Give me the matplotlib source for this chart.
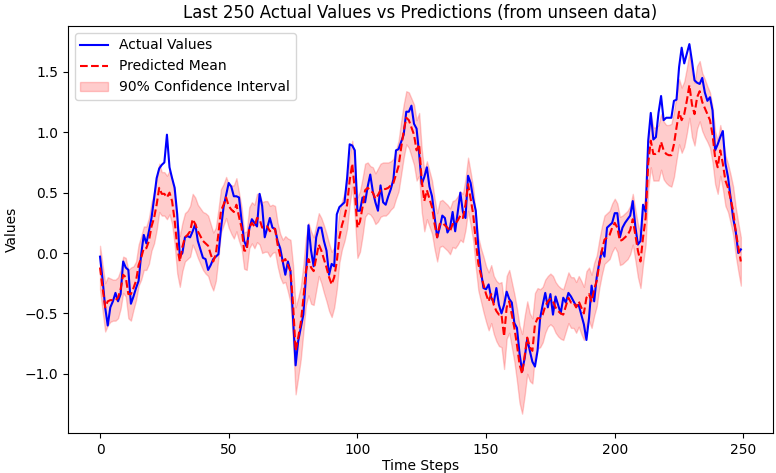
import matplotlib
matplotlib.use("Agg")
import matplotlib.pyplot as plt
import numpy as np

# Actual values (last 250 steps)
actual = [
    -0.03, -0.22, -0.45, -0.60, -0.45, -0.40, -0.33, -0.40, -0.34, -0.07,
    -0.12, -0.14, -0.42, -0.36, -0.29, -0.23, -0.01, 0.15, 0.08, 0.18,
    0.29, 0.45, 0.62, 0.70, 0.73, 0.75, 0.98, 0.71, 0.62, 0.54,
    0.32, -0.03, 0.00, 0.13, 0.14, 0.13, 0.18, 0.24, 0.10, 0.03,
    -0.04, -0.05, -0.14, -0.10, -0.05, -0.03, -0.01, 0.20, 0.38, 0.48,
    0.58, 0.55, 0.47, 0.47, 0.46, 0.27, 0.10, 0.05, 0.20, 0.28,
    0.25, 0.22, 0.49, 0.39, 0.13, 0.21, 0.29, 0.21, 0.20, 0.10,
    0.04, -0.07, -0.18, -0.07, -0.15, -0.54, -0.93, -0.73, -0.62, -0.51,
    -0.20, 0.23, 0.02, -0.11, 0.13, 0.21, 0.21, 0.10, 0.02, -0.18,
    -0.09, -0.11, 0.32, 0.38, 0.40, 0.42, 0.62, 0.90, 0.89, 0.85,
    0.35, 0.35, 0.46, 0.42, 0.55, 0.65, 0.51, 0.42, 0.35, 0.56,
    0.42, 0.40, 0.47, 0.53, 0.61, 0.85, 0.86, 0.92, 0.98, 1.17,
    1.17, 1.22, 1.07, 1.03, 0.82, 0.57, 0.63, 0.71, 0.55, 0.47,
    0.30, 0.13, 0.21, 0.31, 0.29, 0.17, 0.21, 0.34, 0.18, 0.34,
    0.50, 0.34, 0.29, 0.64, 0.58, 0.45, 0.35, 0.05, -0.15, -0.29,
    -0.30, -0.26, -0.37, -0.41, -0.29, -0.43, -0.50, -0.43, -0.32, -0.38,
    -0.41, -0.58, -0.62, -0.83, -0.98, -0.87, -0.71, -0.81, -0.90, -0.94,
    -0.81, -0.54, -0.43, -0.33, -0.45, -0.34, -0.51, -0.36, -0.43, -0.50,
    -0.37, -0.41, -0.33, -0.36, -0.40, -0.44, -0.43, -0.51, -0.59, -0.72,
    -0.54, -0.27, -0.40, -0.20, -0.08, 0.02, -0.03, 0.21, 0.23, 0.25,
    0.33, 0.33, 0.13, 0.21, 0.25, 0.28, 0.31, 0.43, 0.22, 0.07,
    0.10, 0.40, 0.34, 0.93, 1.16, 0.94, 0.96, 1.16, 1.30, 1.10,
    1.12, 1.12, 1.12, 1.26, 1.27, 1.54, 1.70, 1.57, 1.65, 1.73,
    1.59, 1.43, 1.41, 1.40, 1.45, 1.33, 1.26, 1.29, 1.18, 0.85,
    0.90, 0.96, 1.01, 0.74, 0.63, 0.46, 0.29, 0.18, 0.00, 0.03,
]

# Predicted mean
predicted = [
    -0.12, -0.29, -0.45, -0.40, -0.39, -0.39, -0.39, -0.37, -0.30, -0.18,
    -0.20, -0.34, -0.34, -0.29, -0.23, -0.10, -0.04, 0.04, 0.04, 0.10,
    0.22, 0.29, 0.40, 0.54, 0.49, 0.49, 0.46, 0.50, 0.43, 0.27,
    0.05, -0.07, 0.05, 0.13, 0.15, 0.18, 0.28, 0.24, 0.18, 0.14,
    0.10, 0.08, 0.06, -0.01, -0.07, -0.01, 0.16, 0.35, 0.40, 0.46,
    0.39, 0.36, 0.34, 0.40, 0.30, 0.21, 0.02, 0.02, 0.21, 0.25,
    0.22, 0.29, 0.28, 0.21, 0.22, 0.22, 0.18, 0.20, 0.20, 0.07,
    -0.02, -0.07, -0.05, -0.10, -0.15, -0.42, -0.81, -0.70, -0.58, -0.38,
    -0.15, -0.05, -0.12, -0.15, -0.04, 0.07, 0.02, -0.05, -0.12, -0.20,
    -0.26, -0.20, -0.07, 0.13, 0.23, 0.30, 0.40, 0.60, 0.74, 0.52,
    0.21, 0.26, 0.38, 0.52, 0.54, 0.52, 0.50, 0.45, 0.48, 0.52,
    0.53, 0.53, 0.54, 0.56, 0.58, 0.65, 0.72, 0.87, 1.01, 1.12,
    1.10, 1.04, 0.98, 0.85, 0.90, 0.60, 0.43, 0.52, 0.45, 0.38,
    0.24, 0.13, 0.24, 0.25, 0.23, 0.21, 0.18, 0.24, 0.24, 0.27,
    0.31, 0.29, 0.40, 0.57, 0.45, 0.32, 0.10, -0.09, -0.18, -0.26,
    -0.34, -0.40, -0.34, -0.43, -0.48, -0.51, -0.51, -0.69, -0.45, -0.40,
    -0.51, -0.62, -0.76, -0.92, -1.00, -0.85, -0.70, -0.78, -0.81, -0.59,
    -0.54, -0.54, -0.51, -0.44, -0.40, -0.38, -0.40, -0.45, -0.48, -0.50,
    -0.51, -0.44, -0.37, -0.41, -0.41, -0.45, -0.40, -0.45, -0.50, -0.37,
    -0.34, -0.40, -0.30, -0.23, -0.09, 0.02, 0.11, 0.13, 0.15, 0.21,
    0.25, 0.21, 0.10, 0.11, 0.13, 0.15, 0.19, 0.28, 0.15, 0.02,
    -0.07, 0.13, 0.29, 0.74, 0.93, 0.82, 0.82, 0.83, 0.92, 0.85,
    0.82, 0.81, 0.81, 0.90, 1.04, 1.17, 1.10, 1.15, 1.26, 1.39,
    1.23, 1.15, 1.29, 1.34, 1.25, 1.20, 1.15, 1.10, 0.98, 0.79,
    0.71, 0.85, 0.74, 0.60, 0.54, 0.45, 0.35, 0.18, 0.05, -0.07,
]

# Half width of the 90% confidence interval
ci_half = [
    0.18, 0.19, 0.20, 0.20, 0.18, 0.17, 0.17, 0.17, 0.16, 0.15,
    0.16, 0.20, 0.22, 0.18, 0.16, 0.17, 0.18, 0.18, 0.18, 0.19,
    0.20, 0.21, 0.21, 0.20, 0.18, 0.18, 0.18, 0.18, 0.19, 0.20,
    0.22, 0.21, 0.20, 0.20, 0.20, 0.21, 0.21, 0.22, 0.22, 0.23,
    0.24, 0.25, 0.25, 0.25, 0.24, 0.22, 0.20, 0.18, 0.17, 0.17,
    0.18, 0.20, 0.22, 0.22, 0.20, 0.17, 0.15, 0.16, 0.17, 0.17,
    0.18, 0.20, 0.21, 0.21, 0.21, 0.21, 0.21, 0.20, 0.19, 0.18,
    0.18, 0.18, 0.19, 0.22, 0.26, 0.32, 0.36, 0.33, 0.30, 0.28,
    0.28, 0.30, 0.30, 0.28, 0.27, 0.26, 0.27, 0.28, 0.28, 0.28,
    0.27, 0.25, 0.23, 0.21, 0.20, 0.20, 0.20, 0.20, 0.19, 0.22,
    0.25, 0.25, 0.24, 0.22, 0.21, 0.20, 0.21, 0.21, 0.22, 0.22,
    0.22, 0.22, 0.21, 0.20, 0.20, 0.20, 0.21, 0.22, 0.22, 0.22,
    0.23, 0.24, 0.25, 0.25, 0.26, 0.26, 0.25, 0.24, 0.23, 0.22,
    0.21, 0.20, 0.19, 0.19, 0.19, 0.19, 0.19, 0.19, 0.20, 0.20,
    0.20, 0.20, 0.21, 0.22, 0.22, 0.22, 0.22, 0.22, 0.22, 0.23,
    0.23, 0.24, 0.24, 0.24, 0.25, 0.26, 0.27, 0.27, 0.26, 0.26,
    0.27, 0.28, 0.30, 0.32, 0.33, 0.33, 0.30, 0.28, 0.27, 0.26,
    0.25, 0.24, 0.23, 0.22, 0.21, 0.21, 0.21, 0.21, 0.21, 0.21,
    0.21, 0.21, 0.21, 0.21, 0.21, 0.21, 0.21, 0.22, 0.22, 0.22,
    0.22, 0.22, 0.22, 0.21, 0.20, 0.20, 0.20, 0.20, 0.20, 0.20,
    0.20, 0.20, 0.20, 0.20, 0.20, 0.20, 0.20, 0.21, 0.21, 0.22,
    0.22, 0.22, 0.22, 0.22, 0.22, 0.22, 0.22, 0.23, 0.23, 0.24,
    0.24, 0.25, 0.26, 0.27, 0.27, 0.27, 0.27, 0.27, 0.27, 0.27,
    0.27, 0.26, 0.26, 0.25, 0.24, 0.24, 0.23, 0.23, 0.23, 0.22,
    0.22, 0.21, 0.21, 0.21, 0.20, 0.20, 0.20, 0.20, 0.20, 0.20,
]

steps = np.arange(len(actual))
pred = np.array(predicted)
half = np.array(ci_half)
lower = pred - half
upper = pred + half

fig = plt.figure(figsize=(7.76, 4.73), dpi=100)
ax = fig.add_axes([0.0876, 0.0846, 0.9084, 0.8605])

ax.plot(steps, actual, color='blue', linewidth=1.5, label='Actual Values')
ax.plot(steps, pred, color='red', linestyle='--', linewidth=1.5, label='Predicted Mean')
ax.fill_between(steps, lower, upper, color='red', alpha=0.2, label='90% Confidence Interval')

ax.set_title('Last 250 Actual Values vs Predictions (from unseen data)')
ax.set_xlabel('Time Steps', labelpad=2)
ax.set_ylabel('Values')
ax.set_xticks([0, 50, 100, 150, 200, 250])
ax.set_ylim(-1.49, 1.88)
ax.legend(loc='upper left')

fig.savefig('out.png', dpi=100)
